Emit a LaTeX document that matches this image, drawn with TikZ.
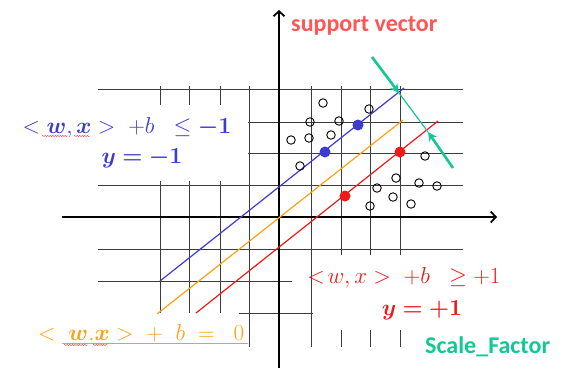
\RequirePackage{fix-cm}
\documentclass[tikz,border=0pt]{standalone}
\usepackage{amsmath,amssymb,bm}
\usepackage{fontspec}
\newfontfamily\calib{Carlito}
\usetikzlibrary{arrows.meta,decorations.pathmorphing}
\definecolor{svred}{RGB}{255,85,85}
\definecolor{blu}{RGB}{60,60,210}
\definecolor{redl}{RGB}{240,25,25}
\definecolor{orng}{RGB}{255,160,20}
\definecolor{tealc}{RGB}{20,200,150}
\definecolor{gridc}{RGB}{60,60,60}
\DeclareMathSizes{23}{23}{16}{12}
\begin{document}
\begin{tikzpicture}[x=1pt,y=-1pt,
  gridline/.style={draw=gridc,line width=0.8pt},
  axisline/.style={line width=1.8pt,-{Straight Barb[length=5pt,width=11pt]}},
  sample/.style={circle,draw=black,line width=0.9pt,minimum size=8.5pt,inner sep=0pt},
  svdot/.style={circle,minimum size=11pt,inner sep=0pt},
  sepline/.style={line width=1.2pt},
  marg/.style={draw=tealc,line width=2.6pt,-{Stealth[length=9pt,width=9pt]}},
  squig/.style={draw=red!80,line width=0.4pt,decorate,decoration={snake,amplitude=0.6pt,segment length=2.5pt}},
  mathtxt/.style={font=\fontsize{23}{26}\selectfont,inner sep=0pt},
  sftxt/.style={font=\calib\bfseries\fontsize{24}{28}\selectfont,inner sep=0pt}]
\useasboundingbox (0,0) rectangle (562,368);
\fill[white] (0,0) rectangle (562,368);
% grid, horizontal
\draw[gridline] (98,89) -- (463,89);
\draw[gridline] (248,122) -- (463,122);
\draw[gridline] (248,153) -- (463,153);
\draw[gridline] (98,185) -- (463,185);
\draw[gridline] (98,249) -- (463,249);
\draw[gridline] (98,281) -- (292,281);
\draw[gridline] (239,313) -- (313,313);
% grid, vertical
\foreach \x in {160,189,220}{
  \draw[gridline] (\x,86) -- (\x,105);
  \draw[gridline] (\x,181) -- (\x,313);}
\draw[gridline] (249,86) -- (249,347);
\draw[gridline] (311,86) -- (311,347);
\foreach \x in {341,370,400}{
  \draw[gridline] (\x,86) -- (\x,255);
  \draw[gridline] (\x,330) -- (\x,347);}
% axes
\coordinate (xs) at (62,217);
\coordinate (xe) at (497,217);
\coordinate (ys) at (279,368);
\coordinate (ye) at (279,10);
\draw[axisline] (xs) -- (xe);
\draw[axisline] (ys) -- (ye);
% separating lines
\coordinate (b1) at (160,281); \coordinate (b2) at (404,88);
\coordinate (o1) at (157,314); \coordinate (o2) at (403,120);
\coordinate (r1) at (196,313); \coordinate (r2) at (438,121);
\draw[sepline,draw=blu] (b1) -- (b2);
\draw[sepline,draw=orng] (o1) -- (o2);
\draw[sepline,draw=redl] (r1) -- (r2);
% samples
\foreach \n/\p in {c1/{(323,103)},c2/{(369,109)},c3/{(310,122)},c4/{(339,121)},
  c5/{(291,140)},c6/{(309,138)},c7/{(331,135)},c8/{(300,166)},c9/{(425,156)},
  c10/{(396,178)},c11/{(377,188)},c12/{(419,183)},c13/{(437,186)},c14/{(393,197)},
  c15/{(370,206)},c16/{(411,204)}}
  \node[sample] (\n) at \p {};
\node[svdot,fill=blu] (d1) at (325,152) {};
\node[svdot,fill=blu] (d2) at (358,125) {};
\node[svdot,fill=redl] (d3) at (400,152) {};
\node[svdot,fill=redl] (d4) at (345,196) {};
% margin arrows
\coordinate (t1) at (372,57);
\coordinate (t2) at (399,93);
\coordinate (t3) at (428,132);
\coordinate (t4) at (453,168);
\draw[marg] (t1) -- (t2);
\draw[draw=tealc,line width=1.2pt] (t2) -- (t3);
\draw[marg] (t4) -- (t3);
% texts
\node[sftxt,text=svred,anchor=base west] (sv) at (291,31) {support vector};
\node[sftxt,text=tealc,anchor=base west] (sf) at (425,353) {Scale\_Factor};
\node[mathtxt,text=blu,anchor=base] (bl1) at (127,133) {$<\bm{w},\bm{x}>\;+b\;\;\le\bm{-1}$};
\node[mathtxt,text=blu,anchor=base] (bl2) at (142,163) {$\bm{y=-1}$};
\node[mathtxt,text=redl,anchor=base] (rd1) at (404,283) {$<\!w,x>\;+b\;\;\ge+1$};
\node[mathtxt,text=redl,anchor=base] (rd2) at (422,315) {$\bm{y=+1}$};
\node[mathtxt,text=orng,anchor=base west] (or1) at (38,340) {$<\;\bm{w}.\bm{x}>\;+\;\;b\;=\;\;0$};
\draw[orng,line width=0.8pt] (62,343) -- (248,343);
\draw[squig] (42,136) -- (68,136);
\draw[squig] (74,136) -- (90,136);
\draw[squig] (64,345) -- (88,345);
\draw[squig] (93,345) -- (108,345);
\end{tikzpicture}
\end{document}
